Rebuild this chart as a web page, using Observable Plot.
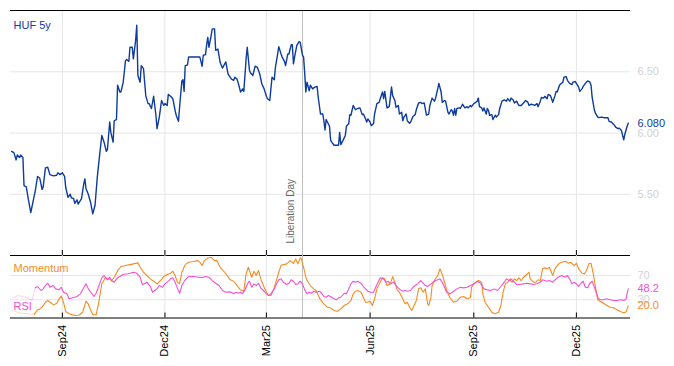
<!DOCTYPE html>
<html><head><meta charset="utf-8">
<script src="https://cdn.jsdelivr.net/npm/d3@7"></script>
<script src="https://cdn.jsdelivr.net/npm/@observablehq/plot@0.6"></script>
<style>
body{margin:0;background:#fff;font-family:"Liberation Sans",Arial,sans-serif;}
#chart{position:relative;width:674px;height:366px;overflow:hidden;}
#chart svg{position:absolute;left:0;background:transparent;}
</style></head><body><div id="chart"></div>
<script>
// ---------- data ----------
const seriesName = "HUF 5y";
const hufDates = [
"2024-07-18","2024-07-20","2024-07-22","2024-07-23","2024-07-25","2024-07-26","2024-07-28","2024-07-29","2024-07-31","2024-08-02",
"2024-08-04","2024-08-06","2024-08-08","2024-08-10","2024-08-12","2024-08-14","2024-08-15","2024-08-17","2024-08-19","2024-08-21",
"2024-08-24","2024-08-27","2024-08-28","2024-08-30","2024-09-01","2024-09-03","2024-09-04","2024-09-06","2024-09-08","2024-09-09",
"2024-09-11","2024-09-12","2024-09-14","2024-09-15","2024-09-18","2024-09-20","2024-09-21","2024-09-22","2024-09-24","2024-09-26",
"2024-09-28","2024-09-30","2024-10-02","2024-10-04","2024-10-06","2024-10-08","2024-10-10","2024-10-11","2024-10-13","2024-10-14",
"2024-10-16","2024-10-17","2024-10-19","2024-10-20","2024-10-22","2024-10-23","2024-10-25","2024-10-27","2024-10-28","2024-10-30",
"2024-10-31","2024-11-02","2024-11-03","2024-11-05","2024-11-06","2024-11-07","2024-11-09","2024-11-10","2024-11-12","2024-11-14",
"2024-11-16","2024-11-17","2024-11-19","2024-11-20","2024-11-21","2024-11-23","2024-11-24","2024-11-26","2024-11-28","2024-11-30",
"2024-12-01","2024-12-03","2024-12-04","2024-12-06","2024-12-08","2024-12-10","2024-12-11","2024-12-13","2024-12-14","2024-12-16",
"2024-12-17","2024-12-18","2024-12-19","2024-12-21","2024-12-22","2024-12-26","2024-12-31","2025-01-01","2025-01-03","2025-01-04",
"2025-01-06","2025-01-07","2025-01-08","2025-01-09","2025-01-11","2025-01-12","2025-01-14","2025-01-15","2025-01-17","2025-01-19",
"2025-01-21","2025-01-24","2025-01-26","2025-01-29","2025-01-31","2025-02-01","2025-02-03","2025-02-05","2025-02-06","2025-02-08",
"2025-02-09","2025-02-11","2025-02-12","2025-02-14","2025-02-15","2025-02-17","2025-02-19","2025-02-21","2025-02-23","2025-02-25",
"2025-02-27","2025-03-01","2025-03-02","2025-03-04","2025-03-05","2025-03-06","2025-03-08","2025-03-09","2025-03-11","2025-03-12",
"2025-03-14","2025-03-15","2025-03-17","2025-03-18","2025-03-20","2025-03-21","2025-03-23","2025-03-24","2025-03-25","2025-03-26",
"2025-03-28","2025-03-30","2025-03-31","2025-04-02","2025-04-03","2025-04-04","2025-04-05","2025-04-06","2025-04-08","2025-04-09",
"2025-04-11","2025-04-13","2025-04-15","2025-04-16","2025-04-18","2025-04-20","2025-04-21","2025-04-22","2025-04-23","2025-04-26",
"2025-04-27","2025-04-28","2025-04-30","2025-05-04","2025-05-05","2025-05-06","2025-05-08","2025-05-10","2025-05-11","2025-05-13",
"2025-05-14","2025-05-15","2025-05-17","2025-05-19","2025-05-21","2025-05-23","2025-05-25","2025-05-26","2025-05-28","2025-05-29",
"2025-05-30","2025-06-01","2025-06-02","2025-06-04","2025-06-05","2025-06-07","2025-06-09","2025-06-10","2025-06-12","2025-06-13",
"2025-06-14","2025-06-16","2025-06-18","2025-06-20","2025-06-21","2025-06-23","2025-06-24","2025-06-26","2025-06-27","2025-06-29",
"2025-06-30","2025-07-01","2025-07-03","2025-07-04","2025-07-06","2025-07-07","2025-07-09","2025-07-11","2025-07-12","2025-07-14",
"2025-07-16","2025-07-17","2025-07-19","2025-07-21","2025-07-23","2025-07-24","2025-07-26","2025-07-28","2025-07-29","2025-07-31",
"2025-08-01","2025-08-03","2025-08-04","2025-08-06","2025-08-07","2025-08-09","2025-08-10","2025-08-12","2025-08-13","2025-08-14",
"2025-08-15","2025-08-16","2025-08-17","2025-08-19","2025-08-20","2025-08-22","2025-08-24","2025-08-26","2025-08-27","2025-08-29",
"2025-08-30","2025-09-01","2025-09-02","2025-09-04","2025-09-05","2025-09-06","2025-09-08","2025-09-09","2025-09-10","2025-09-12",
"2025-09-13","2025-09-14","2025-09-15","2025-09-17","2025-09-18","2025-09-20","2025-09-21","2025-09-23","2025-09-24","2025-09-26",
"2025-09-28","2025-09-30","2025-10-01","2025-10-03","2025-10-04","2025-10-06","2025-10-07","2025-10-09","2025-10-10","2025-10-11",
"2025-10-13","2025-10-15","2025-10-17","2025-10-19","2025-10-20","2025-10-22","2025-10-24","2025-10-25","2025-10-27","2025-10-28",
"2025-10-30","2025-10-31","2025-11-02","2025-11-03","2025-11-05","2025-11-06","2025-11-08","2025-11-09","2025-11-10","2025-11-12",
"2025-11-13","2025-11-14","2025-11-16","2025-11-17","2025-11-19","2025-11-20","2025-11-22","2025-11-23","2025-11-25","2025-11-27",
"2025-11-28","2025-11-30","2025-12-01","2025-12-03","2025-12-04","2025-12-06","2025-12-07","2025-12-09","2025-12-11","2025-12-13",
"2025-12-14","2025-12-15","2025-12-17","2025-12-18","2025-12-20","2025-12-21","2025-12-23","2025-12-26","2025-12-29","2025-12-30",
"2026-01-01","2026-01-02","2026-01-04","2026-01-05","2026-01-07","2026-01-08","2026-01-10","2026-01-11","2026-01-12","2026-01-13",
"2026-01-15","2026-01-16"];
const hufValues = [
5.85,5.84,5.78,5.82,5.80,5.82,5.80,5.57,5.56,5.45,
5.35,5.44,5.53,5.645,5.63,5.54,5.56,5.715,5.72,5.66,
5.65,5.655,5.675,5.66,5.675,5.645,5.555,5.475,5.50,5.47,
5.465,5.425,5.455,5.42,5.465,5.585,5.625,5.545,5.50,5.435,
5.34,5.41,5.64,5.815,5.98,5.925,5.85,5.865,6.09,6.005,
5.925,6.10,6.11,6.39,6.335,6.335,6.415,6.59,6.60,6.585,
6.70,6.70,6.605,6.755,6.88,6.47,6.415,6.55,6.525,6.305,
6.24,6.24,6.20,6.25,6.30,6.145,6.035,6.13,6.265,6.225,
6.24,6.225,6.315,6.30,6.28,6.185,6.145,6.095,6.21,6.425,
6.435,6.34,6.55,6.555,6.62,6.62,6.62,6.62,6.545,6.635,
6.64,6.72,6.78,6.70,6.795,6.85,6.85,6.675,6.685,6.575,
6.53,6.58,6.48,6.44,6.43,6.455,6.44,6.375,6.335,6.36,
6.34,6.605,6.70,6.51,6.49,6.47,6.545,6.535,6.485,6.40,
6.36,6.30,6.28,6.265,6.36,6.455,6.435,6.535,6.645,6.705,
6.645,6.62,6.585,6.55,6.645,6.645,6.72,6.72,6.565,6.62,
6.715,6.745,6.74,6.635,6.62,6.485,6.335,6.415,6.345,6.39,
6.36,6.375,6.38,6.29,6.155,6.155,6.10,6.025,6.11,6.055,
5.94,5.925,5.90,5.90,6.005,5.905,5.94,5.98,6.055,6.075,
6.15,6.145,6.225,6.19,6.20,6.205,6.15,6.155,6.115,6.09,
6.115,6.09,6.06,6.075,6.155,6.24,6.25,6.28,6.335,6.28,
6.34,6.205,6.215,6.375,6.305,6.265,6.21,6.225,6.155,6.17,
6.10,6.13,6.155,6.10,6.08,6.09,6.135,6.15,6.19,6.245,
6.25,6.24,6.245,6.145,6.155,6.225,6.285,6.26,6.28,6.36,
6.405,6.335,6.25,6.265,6.26,6.17,6.155,6.19,6.18,6.145,
6.20,6.145,6.20,6.205,6.20,6.235,6.205,6.215,6.205,6.225,
6.215,6.24,6.245,6.26,6.285,6.215,6.205,6.18,6.205,6.155,
6.20,6.185,6.145,6.15,6.11,6.145,6.13,6.15,6.20,6.26,
6.27,6.26,6.28,6.26,6.285,6.27,6.245,6.26,6.24,6.225,
6.225,6.245,6.265,6.25,6.225,6.235,6.23,6.225,6.24,6.215,
6.26,6.29,6.285,6.30,6.28,6.315,6.305,6.28,6.25,6.305,
6.34,6.335,6.39,6.40,6.415,6.455,6.46,6.43,6.405,6.395,
6.415,6.42,6.405,6.375,6.34,6.36,6.38,6.405,6.425,6.415,
6.39,6.29,6.185,6.16,6.13,6.125,6.13,6.125,6.125,6.095,
6.09,6.08,6.06,6.045,6.035,6.04,6.02,5.98,5.945,5.99,
6.055,6.08];

// oscillators: day offsets counted from oscStart
const oscStart = "2024-07-17";
const momentumDays = [2,9,21,24,26,28,31,33,35,38,41,43,45,47,49,52,55,58,61,64,67,69,71,73,76,78,81,84,87,90,93,95,98,102,106,109,113,115,118,121,124,127,130,133,136,139,142,144,146,148,150,152,155,158,162,166,168,170,172,175,178,181,183,186,190,195,198,201,204,207,209,211,214,216,218,220,222,225,227,229,231,233,235,238,240,242,245,248,251,253,255,257,258,260,262,264,266,269,271,273,275,278,281,284,287,290,293,296,299,302,304,306,308,311,313,315,317,319,321,323,325,328,330,332,334,337,339,341,343,345,348,350,352,354,356,358,360,362,364,366,368,370,371,373,374,376,379,381,383,385,387,390,393,396,399,402,405,408,409,411,413,415,418,419,421,424,427,430,433,435,437,439,441,443,445,447,449,451,453,455,458,460,461,464,466,468,470,472,474,476,478,481,483,485,487,489,492,495,497,500,502,504,507,509,511,513,515,517,519,521,523,526,529,532,535,538,541,544,546,547,548];
const momentumValues = [12.3,8,6,13.5,15,18,26,29,26,22,24,31.5,36,26,10.7,7,5.2,4,5,9.5,27.7,23,13.5,5.8,5.2,23,56,66,64.5,61.7,70,78,84.8,86.4,88,89.2,90.9,83.6,75.4,70,64.5,60.6,56.3,61.7,68.3,71.6,73.7,77,70,59,56.3,75.4,88,91.9,93,94.6,91.9,86.4,94.6,99,100,94.6,94.6,83.6,75.4,62.9,60.6,53.5,46.4,44.1,72.8,83.6,67.2,77,70,78.2,64.5,50.7,42.5,37,37,45.3,56.3,75.4,86.4,88,89.2,94.6,90.2,97.4,89.2,99,97.4,83.6,67.2,59,53.5,48,45.3,37,30,23.4,17.8,16.8,12.3,11.2,15.1,20.6,23.4,28.8,39.8,44.1,45.3,42.5,34.2,26,26,27.7,20.6,31.6,48,59,66.2,64.5,53.5,56.3,68.3,59,46.4,42.5,31.6,23.4,26,17.8,12.3,20.6,28.8,48,49.7,42.5,48,23.4,20.6,34.2,53.5,61.7,70,81,71.6,59,45.3,33,26,27.7,34.2,35.4,31.6,33.3,50.7,56.3,59,61.7,59,39.8,26,17.8,9.5,6.9,9.5,20.6,42.5,56.3,59,62.9,59,64.5,61.7,66.2,61.7,67.2,71.6,75.4,64.5,59,59,62.9,61.7,81,82.6,81,83.6,70,81,86.4,90.2,91.9,93.5,90.2,91.9,86.4,90.2,81,73.7,72.8,78.2,89.2,90.2,72.8,50.7,30,27.7,24.4,20.6,17.8,16.8,13.5,10.7,8.6,10,15,20.0];
const rsiDays = [2,7,13,19,22,24,27,29,31,33,35,38,40,43,45,47,50,52,55,59,62,65,67,69,72,74,76,79,81,83,86,88,90,92,95,97,100,104,106,109,112,115,117,119,121,124,126,128,130,132,135,137,139,142,144,146,148,150,152,155,158,163,167,170,173,176,179,182,185,188,191,195,198,200,202,204,206,208,211,212,214,216,218,220,222,225,227,229,231,234,236,238,240,242,245,247,249,251,253,255,257,259,261,263,265,267,269,271,274,276,278,280,282,285,287,289,291,293,296,298,300,302,304,306,308,311,313,315,317,319,322,324,326,328,331,333,335,337,340,342,344,346,348,350,352,355,357,359,361,364,366,368,370,373,375,377,379,381,383,385,387,390,393,396,399,402,405,408,411,414,417,420,423,426,429,432,435,438,440,442,444,447,449,452,455,458,461,464,467,470,472,474,476,478,481,483,485,487,489,492,494,496,498,500,502,504,506,508,510,512,514,516,518,521,523,526,529,532,535,538,541,544,546,547,548];
const rsiValues = [33.3,37,34.2,28.8,49.7,51.9,45.3,48,53.5,57.3,50.7,53.5,48,46.4,50.7,42.5,39.8,31.6,33.3,35.4,39.8,49.7,56.3,48,40.8,35.4,40.8,56.3,66.2,70,62.9,67.2,60.6,59,66.2,68.3,71.6,72.8,73.7,75.4,73.7,67.2,55.1,56.3,59,51.9,42.5,45.3,48,53.5,50.7,56.3,59,64.5,66.2,59,49.7,40.8,53.5,62.9,68.3,68.3,67.2,66.2,68.3,67.2,61.7,57.3,53.5,45.3,42.5,43,39.8,42.5,40.8,42.5,39.8,46.4,59,60.6,50.7,56.3,53.5,57.3,49.7,44.1,39.8,37,39.8,48,56.3,62.9,64.5,59,55.1,57.3,62.9,60.6,55.1,56.3,60.6,56.3,46.4,39.8,42.5,40.8,44.1,42.5,44.1,40.8,35.4,34.2,37,34.2,31.6,30,33.3,34.2,40.8,39.8,48,56.3,60.6,59,60.6,57.3,51.9,48,44.1,42.5,42.5,50.7,59,66.2,64.5,59,60.6,56.3,59,53.5,49.7,46.4,44.1,45.3,44.1,45.3,50.7,53.5,56.3,61.7,57.3,53.5,51.9,56.3,59,61.7,62.9,64.5,59,50.7,42.5,39.8,44.1,48,50.7,49.7,50.7,53.5,56.3,60.6,57.3,48,46.4,45.3,48,45.3,51.9,59,64.5,61.7,64.5,59,55.1,55.1,56.3,57.3,56.3,55.1,56.3,59,62.9,61.7,60.6,61.7,59,62.9,66.2,68.3,70,67.2,70,64.5,56.3,59,56.3,51.9,57.3,60.6,50.7,49.7,57.3,60.6,50.7,34.2,30,30,31.6,30,28.8,28.8,30,29,31,40,48.2];
const warmupDays = 22;

const xStart = "2024-07-17", xEnd = "2026-01-18";
const tickDates = ["2024-09-01","2024-12-01","2025-03-01","2025-06-01","2025-09-01","2025-12-01"];
const priceGrid = [5.5, 6.0, 6.5];
const oscGrid = [30, 70];
const eventDate = "2025-04-02", eventLabel = "Liberation Day";

// ---------- build ----------
const parse = s => new Date(s + "T00:00:00Z");
const oscT0 = parse(oscStart);
const dayOf = n => new Date(oscT0.getTime() + n * 864e5);
const huf = hufDates.map((d, i) => ({date: parse(d), value: hufValues[i]}));
const mom = momentumDays.map((d, i) => ({day: d, date: dayOf(d), value: momentumValues[i]}));
const rsi = rsiDays.map((d, i) => ({day: d, date: dayOf(d), value: rsiValues[i]}));
const xDomain = [parse(xStart), parse(xEnd)];
const ticks = tickDates.map(parse);
const ev = parse(eventDate);
const fmt = d3.utcFormat("%b%y");
const xRight = () => xDomain[1];

const BLUE = "#0d3b9e", PINK = "#f74fd2", ORANGE = "#f68b1f", GRID = "#e6e6e6", LIGHT = "#d2d2d2";
const FONT = "'Liberation Sans', Arial, sans-serif";

const topPlot = Plot.plot({
  width: 674, height: 256, marginTop: 10, marginBottom: 1, marginLeft: 10, marginRight: 44,
  style: {background: "transparent", fontFamily: FONT, overflow: "visible"},
  x: {type: "utc", domain: xDomain, axis: null},
  y: {domain: [5, 7], axis: null},
  marks: [
    Plot.ruleY(priceGrid, {stroke: GRID}),
    Plot.ruleX(ticks, {stroke: GRID}),
    Plot.ruleX([ev], {stroke: "#bdbdbd"}),
    Plot.text([eventLabel], {x: () => ev, y: () => 5, rotate: -90, textAnchor: "start", lineAnchor: "middle", dx: -12, dy: -12, fontSize: 10, fill: "#666"}),
    Plot.ruleY([7], {stroke: "#000"}),
    Plot.ruleY([5], {stroke: "#000"}),
    Plot.ruleX(ticks, {stroke: "#000", insetTop: 240}),
    Plot.lineY(huf, {x: "date", y: "value", stroke: BLUE, strokeWidth: 1.4}),
    Plot.text(priceGrid, {x: xRight, y: d => d, text: d => d.toFixed(2), dx: 7, textAnchor: "start", fill: LIGHT, fontSize: 11}),
    Plot.text([huf[huf.length - 1]], {x: xRight, y: "value", text: d => d.value.toFixed(3), dx: 7, textAnchor: "start", fill: BLUE, fontSize: 11}),
    Plot.text([seriesName], {frameAnchor: "top-left", dx: 3, dy: 15, textAnchor: "start", lineAnchor: "middle", fill: BLUE, fontSize: 11})
  ]
});

const momWarm = mom.filter(d => d.day <= warmupDays), momMain = mom.filter(d => d.day >= 21);
const rsiWarm = rsi.filter(d => d.day <= warmupDays), rsiMain = rsi.filter(d => d.day >= warmupDays);

const botPlot = Plot.plot({
  width: 674, height: 111, marginTop: 0, marginBottom: 48.5, marginLeft: 10, marginRight: 44,
  style: {background: "transparent", fontFamily: FONT, overflow: "visible"},
  x: {type: "utc", domain: xDomain},
  y: {domain: [0, 103], axis: null},
  marks: [
    Plot.ruleX(ticks, {stroke: GRID}),
    Plot.ruleY(oscGrid, {stroke: GRID}),
    Plot.ruleX([ev], {stroke: "#bdbdbd"}),
    Plot.ruleY([0], {stroke: "#000"}),
    Plot.ruleX(ticks, {stroke: "#000", insetTop: 57.5}),
    Plot.lineY(momWarm, {x: "date", y: "value", stroke: ORANGE, strokeOpacity: 0.25, strokeWidth: 1.1}),
    Plot.lineY(rsiWarm, {x: "date", y: "value", stroke: PINK, strokeOpacity: 0.25, strokeWidth: 1.1}),
    Plot.lineY(momMain, {x: "date", y: "value", stroke: ORANGE, strokeWidth: 1.1}),
    Plot.lineY(rsiMain, {x: "date", y: "value", stroke: PINK, strokeWidth: 1.1}),
    Plot.text(oscGrid, {x: xRight, y: d => d, text: d => String(d), dx: 7, textAnchor: "start", fill: LIGHT, fontSize: 11}),
    Plot.text([rsi[rsi.length - 1]], {x: xRight, y: "value", text: d => d.value.toFixed(1), dx: 7, textAnchor: "start", fill: PINK, fontSize: 11}),
    Plot.text([mom[mom.length - 1]], {x: xRight, y: "value", text: d => d.value.toFixed(1), dx: 7, textAnchor: "start", fill: ORANGE, fontSize: 11}),
    Plot.text(["Momentum"], {frameAnchor: "top-left", dx: 3, dy: 13, textAnchor: "start", lineAnchor: "middle", fill: ORANGE, fontSize: 11}),
    Plot.text(["RSI"], {frameAnchor: "bottom-left", dx: 3, dy: -11.5, textAnchor: "start", lineAnchor: "middle", fill: PINK, fontSize: 11}),
    Plot.axisX(ticks, {anchor: "bottom", tickFormat: fmt, tickRotate: -90, tickSize: 0, tickPadding: 7, fontSize: 11, label: null})
  ]
});

const root = document.getElementById("chart");
topPlot.style.top = "0px";
botPlot.style.top = "255px";
root.appendChild(topPlot);
root.appendChild(botPlot);
</script></body></html>
